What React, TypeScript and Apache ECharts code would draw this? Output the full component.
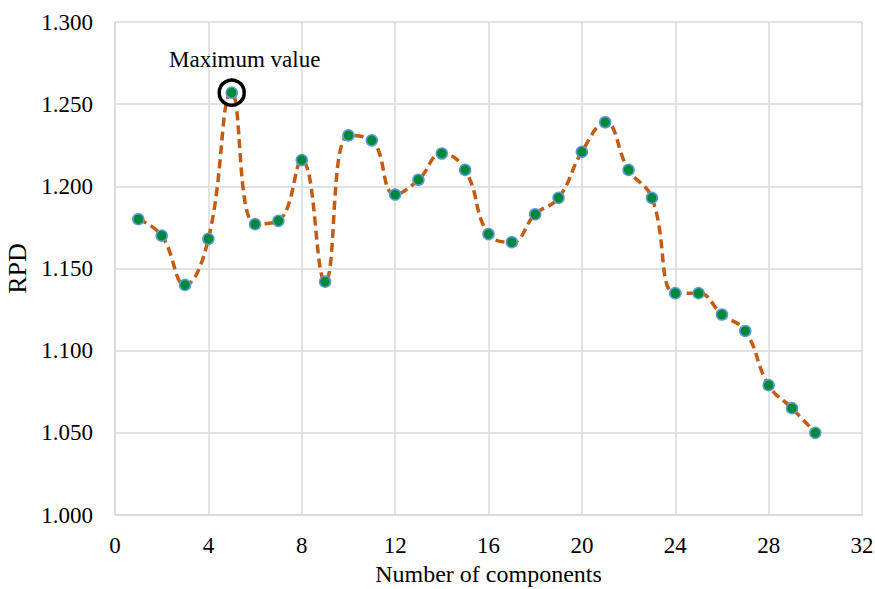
import React, { useEffect, useRef } from "react";
import * as echarts from "echarts";

const components = [1, 2, 3, 4, 5, 6, 7, 8, 9, 10, 11, 12, 13, 14, 15, 16, 17, 18, 19, 20, 21, 22, 23, 24, 25, 26, 27, 28, 29, 30];
const rpd = [1.180, 1.170, 1.140, 1.168, 1.257, 1.177, 1.179, 1.216, 1.142, 1.231, 1.228, 1.195, 1.204, 1.220, 1.210, 1.171, 1.166, 1.183, 1.193, 1.221, 1.239, 1.210, 1.193, 1.135, 1.135, 1.122, 1.112, 1.079, 1.065, 1.050];
const annotationText = "Maximum value";
const xName = "Number of components";
const yName = "RPD";

export default function App() {
  const ref = useRef<HTMLDivElement>(null);
  useEffect(() => {
    if (!ref.current) return;
    const chart = echarts.init(ref.current, undefined, { renderer: "svg" });
    const pts = components.map((c, i) => [c, rpd[i]]);
    let maxI = 0;
    rpd.forEach((v, i) => { if (v > rpd[maxI]) maxI = i; });
    const font = "'Liberation Serif', 'Times New Roman', serif";
    chart.setOption({
      animation: false,
      backgroundColor: "#fff",
      grid: { left: 115, right: 13, top: 22, bottom: 74, containLabel: false, outerBoundsMode: "none" },
      xAxis: {
        type: "value",
        min: 0,
        max: 32,
        interval: 4,
        name: xName,
        nameLocation: "middle",
        nameGap: 47,
        nameTextStyle: { fontFamily: font, fontSize: 24, color: "#000" },
        axisLine: { show: true, lineStyle: { color: "#d9d9d9", width: 1.5 } },
        axisTick: { show: false },
        axisLabel: { fontFamily: font, fontSize: 23, color: "#000", margin: 19 },
        splitLine: { show: true, lineStyle: { color: "#d9d9d9", width: 1.5 } },
      },
      yAxis: {
        type: "value",
        min: 1.0,
        max: 1.3,
        interval: 0.05,
        name: yName,
        nameLocation: "middle",
        nameGap: 80,
        nameRotate: 90,
        nameTextStyle: { fontFamily: font, fontSize: 26, color: "#000" },
        axisLine: { show: true, lineStyle: { color: "#d9d9d9", width: 1.5 } },
        axisTick: { show: false },
        axisLabel: {
          fontFamily: font,
          fontSize: 23,
          color: "#000",
          margin: 22,
          formatter: (v: number) => v.toFixed(3),
        },
        splitLine: { show: true, lineStyle: { color: "#d9d9d9", width: 1.5 } },
      },
      series: [
        {
          type: "line",
          data: pts,
          smooth: 0.45,
          symbol: "circle",
          symbolSize: 11,
          lineStyle: { color: "#C55A11", width: 3.5, type: [9, 5] },
          itemStyle: { color: "#00883A", borderColor: "#5B9BD5", borderWidth: 1.5, opacity: 1 },
          z: 2,
        },
        {
          type: "scatter",
          data: [pts[maxI]],
          symbol: "circle",
          symbolSize: 25,
          itemStyle: { color: "rgba(0,0,0,0)", borderColor: "#000", borderWidth: 3.5, opacity: 1 },
          label: {
            show: true,
            position: "top",
            distance: 7,
            offset: [13, 0],
            formatter: annotationText,
            fontFamily: font,
            fontSize: 23,
            color: "#000",
          },
          z: 3,
        },
      ],
    });
    return () => chart.dispose();
  }, []);
  return <div ref={ref} style={{ position: "fixed", left: 0, top: 0, width: 875, height: 589 }} />;
}
